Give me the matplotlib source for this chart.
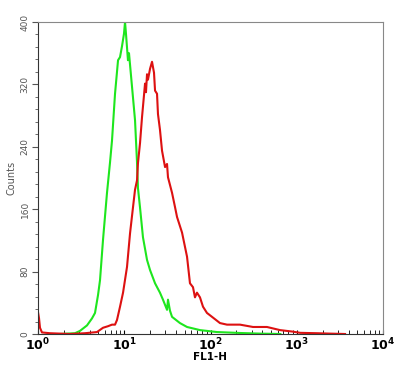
import numpy as np
import matplotlib
matplotlib.use("Agg")
import matplotlib.pyplot as plt
from matplotlib.ticker import FixedLocator, LogLocator, NullFormatter

# FL1-H channel (log10 of fluorescence) and counts
green_log = [0.255, 0.429, 0.487, 0.568, 0.626, 0.661, 0.696, 0.719, 0.754, 0.800,
             0.835, 0.858, 0.893, 0.928, 0.951, 0.974, 0.997, 1.009, 1.020, 1.043,
             1.055, 1.090, 1.125, 1.148, 1.159, 1.183, 1.217, 1.264, 1.299, 1.357,
             1.414, 1.449, 1.496, 1.507, 1.530, 1.554, 1.646, 1.728, 1.878, 2.075,
             2.342, 2.574, 2.810]
green_cnt = [0, 1, 4, 11, 20, 27, 50, 69, 121, 181,
             220, 248, 308, 351, 355, 369, 385, 400, 385, 351,
             360, 317, 274, 220, 187, 162, 124, 95, 82, 65,
             53, 44, 31, 44, 30, 22, 14, 9, 5, 2.5,
             1.3, 0.5, 0]

red_log = [0.0, 0.012, 0.023, 0.046, 0.139, 0.371, 0.545, 0.684, 0.754, 0.812,
           0.858, 0.893, 0.916, 0.951, 0.986, 1.032, 1.067, 1.101, 1.125, 1.148,
           1.159, 1.183, 1.206, 1.241, 1.252, 1.264, 1.275, 1.299, 1.322, 1.345,
           1.357, 1.380, 1.391, 1.414, 1.438, 1.473, 1.496, 1.507, 1.554, 1.588,
           1.612, 1.670, 1.728, 1.762, 1.797, 1.820, 1.843, 1.878, 1.913, 1.959,
           2.029, 2.110, 2.191, 2.342, 2.493, 2.655, 2.806, 2.957, 3.038, 3.235,
           3.386, 3.560]
red_cnt = [28, 20, 8, 2, 1, 0, 1, 2.5, 8, 10,
           12, 12, 18, 35, 53, 86, 129, 162, 185, 197,
           219, 245, 278, 321, 310, 333, 326, 340, 349, 335,
           312, 308, 282, 262, 235, 214, 218, 201, 181, 163,
           150, 130, 99, 65, 60, 47, 53, 47, 35, 27,
           21, 14, 12, 12, 9, 9, 5, 3, 1.5, 1,
           0.5, 0]

x_ticks = [1, 10, 100, 1000, 10000]
x_labels = [r'$\mathbf{10^{0}}$', r'$\mathbf{10^{1}}$', r'$\mathbf{10^{2}}$',
            r'$\mathbf{10^{3}}$', r'$\mathbf{10^{4}}$']
y_ticks = [0, 80, 160, 240, 320, 400]

fig = plt.figure(figsize=(4.05, 3.72), dpi=100)
ax = fig.add_axes([38 / 405, 38 / 372, 345 / 405, 312 / 372])

ax.plot(10 ** np.array(green_log), green_cnt, color='#1ee61e', lw=1.5)
ax.plot(10 ** np.array(red_log), red_cnt, color='#dd1111', lw=1.5)

ax.set_xscale('log')
ax.set_xlim(1, 10000)
ax.set_ylim(0, 400)

ax.set_xticks(x_ticks)
ax.set_xticklabels(x_labels, fontsize=9)
ax.xaxis.set_minor_locator(LogLocator(base=10, subs=np.arange(2, 10)))
ax.xaxis.set_minor_formatter(NullFormatter())
ax.tick_params(axis='x', which='both', direction='in', length=3, pad=2)

ax.set_yticks(y_ticks)
ax.set_yticklabels([str(v) for v in y_ticks], rotation=90, va='center',
                   fontsize=6.5, color='#555555')
ax.yaxis.set_minor_locator(FixedLocator(np.arange(0, 401, 16)))
ax.tick_params(axis='y', which='major', direction='out', length=4, color='#555555', pad=2)
ax.tick_params(axis='y', which='minor', direction='out', length=2, color='#555555')

for s in ['top', 'right']:
    ax.spines[s].set_color('#888888')
for s in ['left', 'bottom']:
    ax.spines[s].set_color('#333333')

ax.set_xlabel('FL1-H', fontsize=7.5, fontweight='bold', labelpad=-1)
ax.set_ylabel('Counts', fontsize=7, color='#555555', labelpad=3)

fig.savefig('out.png', dpi=100)
